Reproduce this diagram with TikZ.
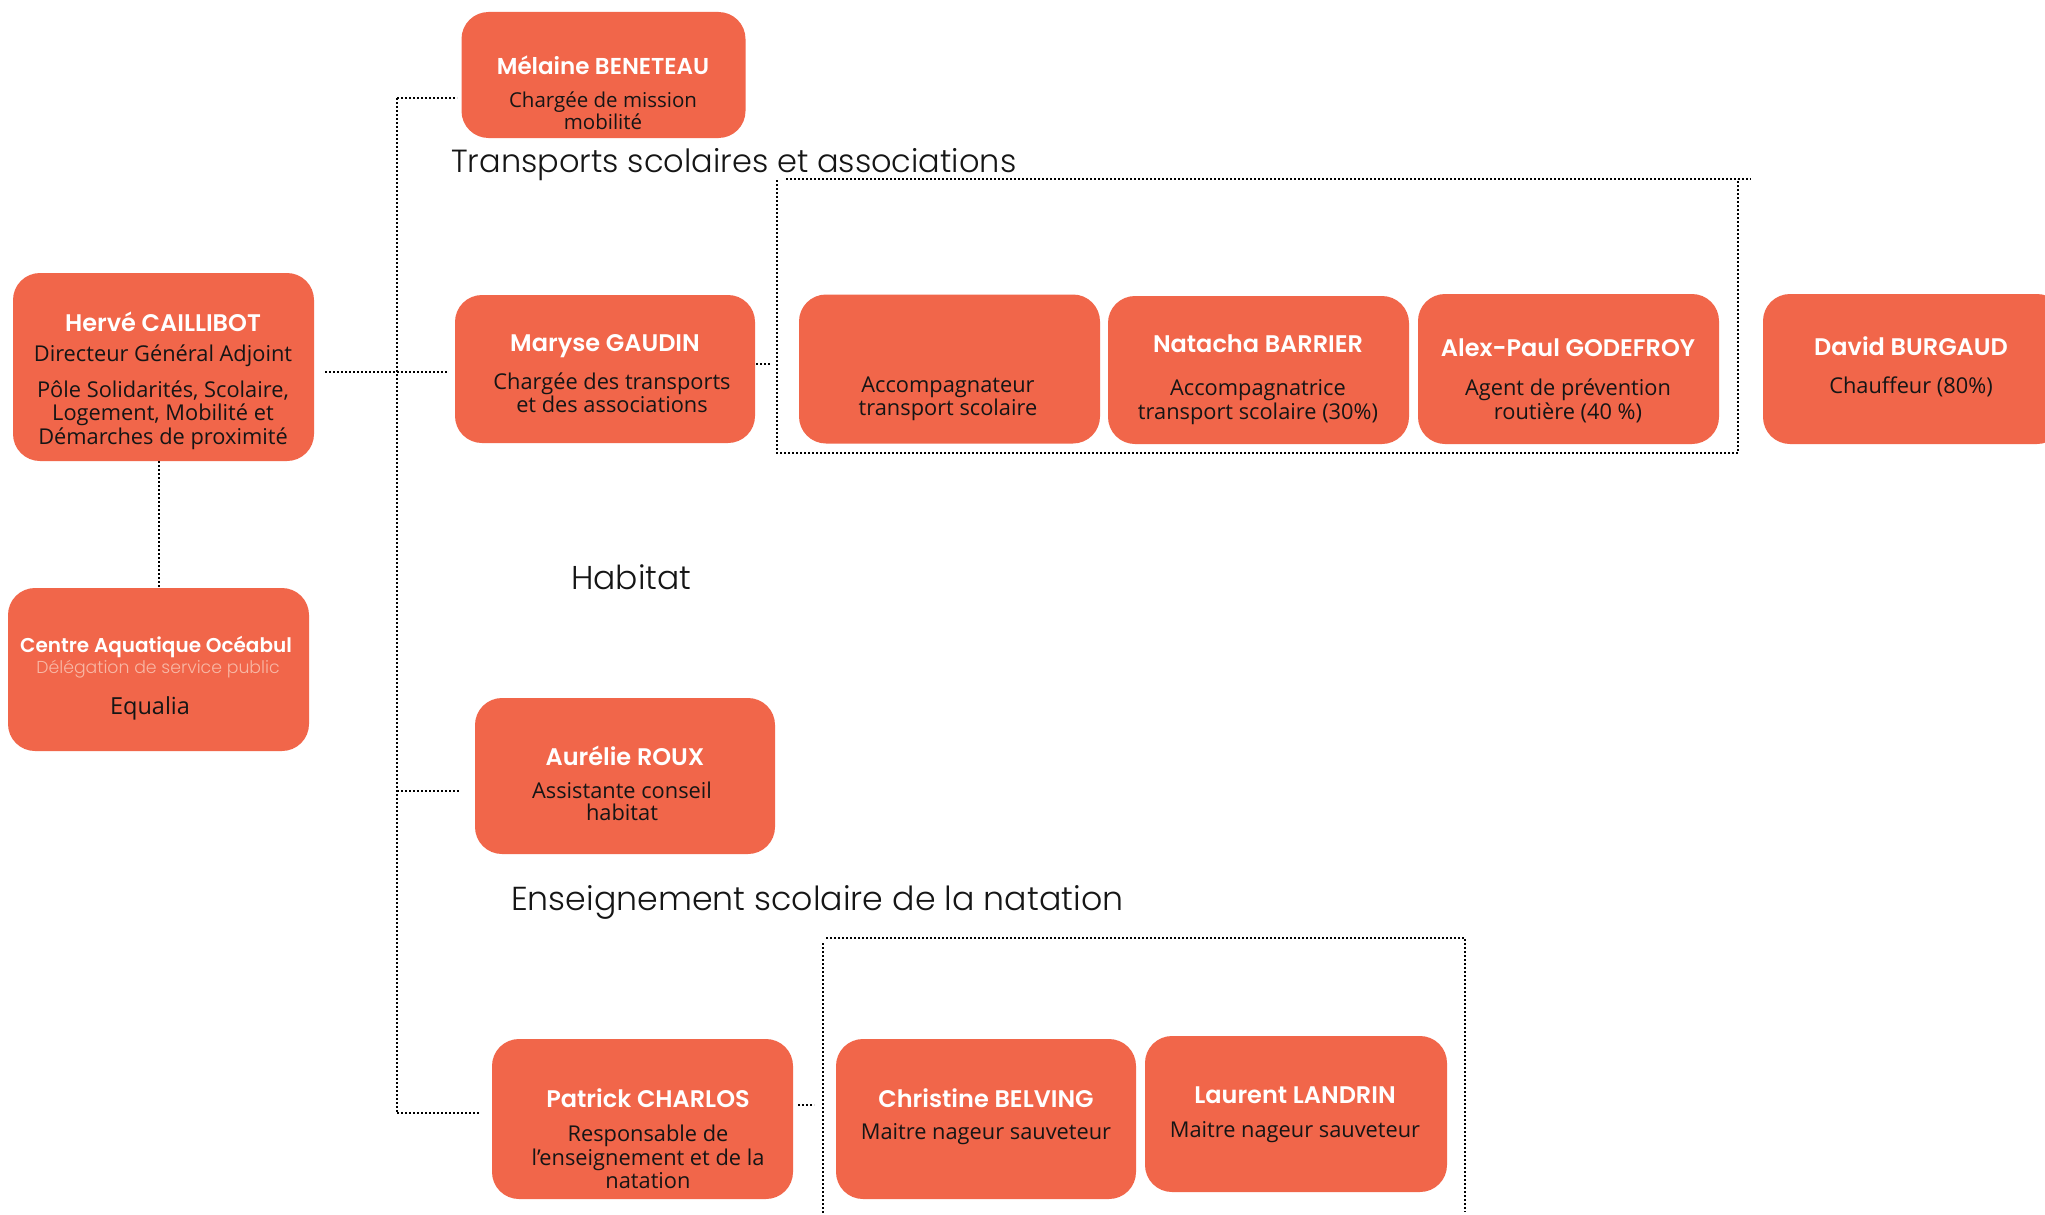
\documentclass[tikz,border=0pt]{standalone}
\usepackage{fontspec}
\setmainfont{Open Sans}
\newfontfamily\namefont{Poppins}[UprightFont={* SemiBold}]
\newfontfamily\titlefont{Poppins}[UprightFont={* Light}]
\definecolor{boxfill}{HTML}{F1664A}
\definecolor{paletext}{HTML}{F8B8A6}
\definecolor{bodytext}{HTML}{151515}
\begin{document}
\begin{tikzpicture}[x=1pt,y=-1pt,
  card/.style={fill=boxfill,draw=none,rounded corners=27pt,inner sep=0pt},
  nm/.style={text=white,font=\namefont\fontsize{24}{28}\selectfont,inner sep=0pt},
  sub/.style={text=bodytext,font=\fontsize{21.8}{23.5}\selectfont,align=center,inner sep=0pt},
  ttl/.style={text=bodytext,font=\titlefont\fontsize{32}{38}\selectfont,inner sep=0pt,anchor=base west},
  dotline/.style={line width=2pt,dash pattern=on 2pt off 2pt,black}]
\useasboundingbox (0,0) rectangle (2045,1215);
\fill[white] (0,0) rectangle (2045,1215);

% cards
\node[card,minimum width=301pt,minimum height=188pt] (herve) at (163.5,367) {};
\node[card,minimum width=301pt,minimum height=163pt] (centre) at (158.5,669.5) {};
\node[card,minimum width=284pt,minimum height=126pt] (melaine) at (603.5,75) {};
\node[card,minimum width=300pt,minimum height=148pt] (maryse) at (605,369) {};
\node[card,minimum width=301pt,minimum height=149pt] (accomp) at (949.5,369) {};
\node[card,minimum width=301pt,minimum height=148pt] (natacha) at (1258.5,370) {};
\node[card,minimum width=301pt,minimum height=150pt] (alex) at (1568.5,369) {};
\node[card,minimum width=301pt,minimum height=150pt] (david) at (1913.5,369) {};
\node[card,minimum width=300pt,minimum height=156pt] (aurelie) at (625,776) {};
\node[card,minimum width=301pt,minimum height=160pt] (patrick) at (642.5,1119) {};
\node[card,minimum width=300pt,minimum height=160pt] (christine) at (986,1119) {};
\node[card,minimum width=302pt,minimum height=156pt] (laurent) at (1296,1114) {};

% texts
\node[nm] (herveN) at (163,322) {Hervé CAILLIBOT};
\node[sub] (herveT) at (163,356) {Directeur Général Adjoint};
\node[sub] (herveP) at (163,415) {Pôle Solidarités, Scolaire,\\Logement, Mobilité et\\Démarches de proximité};

\node[nm,font=\namefont\fontsize{20}{24}\selectfont] (centreN) at (156,647) {Centre Aquatique Océabul};
\node[text=paletext,font=\titlefont\fontsize{17.3}{20}\selectfont,inner sep=0pt] (centreD) at (158,669) {Délégation de service public};
\node[sub,font=\fontsize{23.5}{26}\selectfont] (centreE) at (150,708) {Equalia};

\node[nm,font=\namefont\fontsize{23}{27}\selectfont] (melaineN) at (603,65) {Mélaine BENETEAU};
\node[sub,font=\fontsize{20.5}{22}\selectfont] (melaineT) at (603,111) {Chargée de mission\\mobilité};

\node[nm] (maryseN) at (605,346) {Maryse GAUDIN};
\node[sub] (maryseT) at (612,393) {Chargée des transports\\et des associations};

\node[sub] (accompT) at (948,399) {Accompagnateur\\transport scolaire};

\node[nm] (natachaN) at (1258,344) {Natacha BARRIER};
\node[sub] (natachaT) at (1258,402) {Accompagnatrice\\transport scolaire (30\%)};

\node[nm] (alexN) at (1568,348) {Alex-Paul GODEFROY};
\node[sub] (alexT) at (1568,401) {Agent de prévention\\routière (40 \%)};

\node[nm] (davidN) at (1911,346) {David BURGAUD};
\node[sub] (davidT) at (1911,387) {Chauffeur (80\%)};

\node[nm] (aurelieN) at (625,756) {Aurélie ROUX};
\node[sub,font=\fontsize{21.8}{22.5}\selectfont] (aurelieT) at (622,801.5) {Assistante conseil\\habitat};

\node[nm] (patrickN) at (648,1098) {Patrick CHARLOS};
\node[sub] (patrickT) at (648,1157) {Responsable de\\l’enseignement et de la\\natation};

\node[nm] (christineN) at (986,1098) {Christine BELVING};
\node[sub] (christineT) at (986,1134) {Maitre nageur sauveteur};

\node[nm] (laurentN) at (1295,1095) {Laurent LANDRIN};
\node[sub] (laurentT) at (1295,1132) {Maitre nageur sauveteur};

% section titles
\node[ttl] (tTransports) at (451,172) {Transports scolaires et associations};
\node[ttl,font=\titlefont\fontsize{33}{38}\selectfont] (tHabitat) at (571,589) {Habitat};
\node[ttl,font=\titlefont\fontsize{33.2}{38}\selectfont] (tEnseignement) at (511,910) {Enseignement scolaire de la natation};

% connector points
\coordinate (trunkTop) at (397,98);
\coordinate (trunkBot) at (397,1113);
\coordinate (hA) at (325,372);
\coordinate (hB) at (448,372);
\coordinate (mEnd) at (457,98);
\coordinate (aA) at (397,791);
\coordinate (aB) at (459,791);
\coordinate (pEnd) at (480,1113);
\coordinate (g1a) at (756,364);
\coordinate (g1b) at (771,364);
\coordinate (g2a) at (798,1105);
\coordinate (g2b) at (814,1105);
\coordinate (b1tl) at (777,180);
\coordinate (b1bl) at (777,453);
\coordinate (b1br) at (1738,453);
\coordinate (b1tr) at (1738,179);
\coordinate (b1t0) at (786,179);
\coordinate (b1t1) at (1751,179);
\coordinate (b2l0) at (823,943);
\coordinate (b2l1) at (823,1215);
\coordinate (b2t0) at (826,938);
\coordinate (b2tr) at (1465,938);
\coordinate (b2br) at (1465,1212);

% connectors
\draw[dotline] (trunkTop) -- (trunkBot);
\draw[dotline] (trunkTop) -- (mEnd);
\draw[dotline] (hA) -- (hB);
\draw[dotline] (aA) -- (aB);
\draw[dotline] (trunkBot) -- (pEnd);
\draw[dotline] (centre.north |- herve.south) -- (centre.north);
\draw[dotline] (g1a) -- (g1b);
\draw[dotline] (g2a) -- (g2b);
% group frames
\draw[dotline] (b1tl) -- (b1bl) -- (b1br) -- (b1tr);
\draw[dotline] (b1t0) -- (b1t1);
\draw[dotline] (b2l0) -- (b2l1);
\draw[dotline] (b2t0) -- (b2tr) -- (b2br);
\end{tikzpicture}
\end{document}
